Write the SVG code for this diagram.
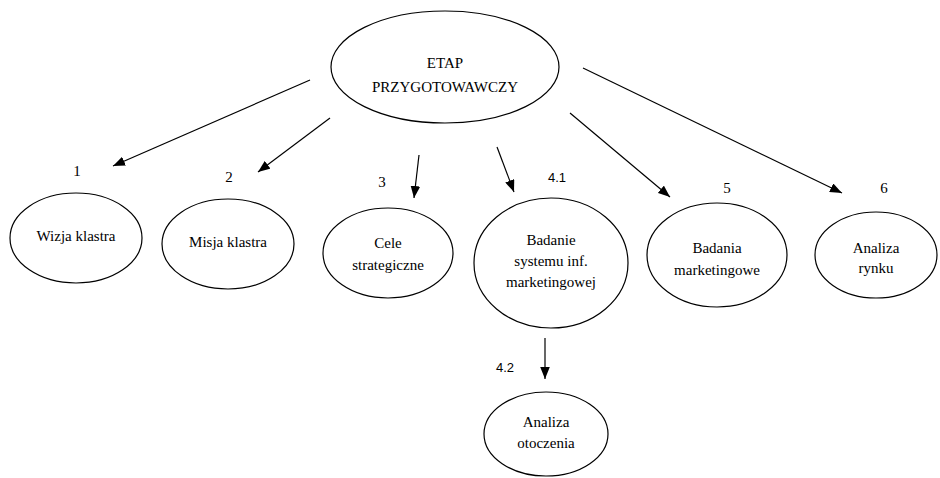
<svg xmlns="http://www.w3.org/2000/svg" width="940" height="478" viewBox="0 0 940 478">
<style>
.n ellipse{fill:#fff;stroke:#000;stroke-width:1.2}
text{font-family:"Liberation Serif","Times New Roman",serif;font-size:15px;fill:#000;text-anchor:middle}
text.s{font-family:"Liberation Sans",Arial,sans-serif;font-size:13px}
#edges line{stroke:#000;stroke-width:1.2;marker-end:url(#ah)}
</style>
<defs>
<marker id="ah" viewBox="0 0 10 8" refX="10" refY="4" markerWidth="12" markerHeight="9.6" markerUnits="userSpaceOnUse" orient="auto">
<path d="M0,0 L10,4 L0,8 z" fill="#000"/>
</marker>
</defs>
<rect width="940" height="478" fill="#fff"/>
<g id="edges">
<line x1="310" y1="80" x2="113" y2="166"/>
<line x1="330" y1="118" x2="258" y2="172"/>
<line x1="419" y1="155" x2="414" y2="198"/>
<line x1="497" y1="147" x2="514" y2="192"/>
<line x1="570" y1="113" x2="670" y2="197"/>
<line x1="583" y1="68" x2="842" y2="193"/>
<line x1="545" y1="338" x2="545" y2="379"/>
</g>
<g id="labels">
<text x="77" y="176">1</text>
<text x="229" y="182">2</text>
<text x="382" y="187">3</text>
<text class="s" x="557" y="182">4.1</text>
<text x="727" y="193">5</text>
<text x="884" y="193">6</text>
<text class="s" x="505" y="372">4.2</text>
</g>
<g id="etap" class="n">
<ellipse cx="445" cy="67" rx="114" ry="56"/>
<text x="445" y="68">ETAP</text>
<text x="445" y="92">PRZYGOTOWAWCZY</text>
</g>
<g id="wizja" class="n">
<ellipse cx="76" cy="238" rx="66" ry="45"/>
<text x="76" y="241">Wizja klastra</text>
</g>
<g id="misja" class="n">
<ellipse cx="228" cy="244" rx="66" ry="45"/>
<text x="228" y="247">Misja klastra</text>
</g>
<g id="cele" class="n">
<ellipse cx="388" cy="253" rx="65" ry="45"/>
<text x="388" y="248">Cele</text>
<text x="388" y="270">strategiczne</text>
</g>
<g id="badanie" class="n">
<ellipse cx="551" cy="263" rx="77" ry="65"/>
<text x="551" y="245">Badanie</text>
<text x="551" y="266">systemu inf.</text>
<text x="551" y="287">marketingowej</text>
</g>
<g id="badania" class="n">
<ellipse cx="717" cy="255" rx="70" ry="52"/>
<text x="717" y="253">Badania</text>
<text x="717" y="275">marketingowe</text>
</g>
<g id="rynek" class="n">
<ellipse cx="876" cy="255" rx="61" ry="43"/>
<text x="876" y="253">Analiza</text>
<text x="876" y="273">rynku</text>
</g>
<g id="otoczenie" class="n">
<ellipse cx="546" cy="434" rx="62" ry="42"/>
<text x="546" y="427">Analiza</text>
<text x="546" y="448">otoczenia</text>
</g>
</svg>
